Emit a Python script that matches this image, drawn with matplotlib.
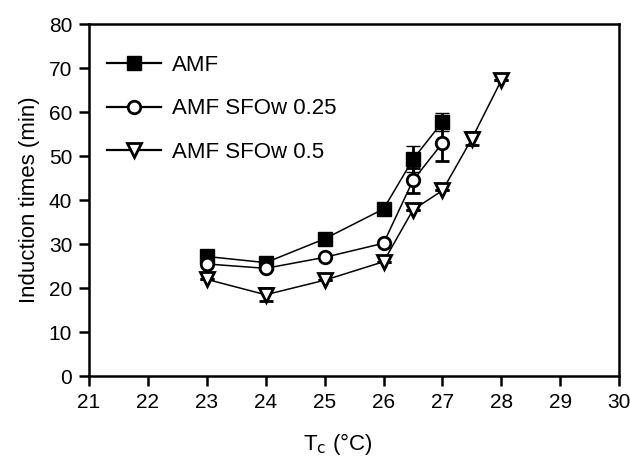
import matplotlib.pyplot as plt
from matplotlib.lines import Line2D

plt.rcParams['font.family'] = ['Liberation Sans', 'DejaVu Sans']

# Crystallization temperature (°C) and induction times (min)
tc_amf = [23, 24, 25, 26, 26.5, 27]
t_amf = [27.2, 25.8, 31.2, 38.0, 49.3, 57.8]
err_amf = [0, 0, 0, 0, 3.0, 2.0]

tc_025 = [23, 24, 25, 26, 26.5, 27]
t_025 = [25.5, 24.5, 27.0, 30.2, 44.5, 53.0]
err_025 = [0, 0, 0, 0, 2.8, 4.0]

tc_05 = [23, 24, 25, 26, 26.5, 27, 27.5, 28]
t_05 = [22.0, 18.5, 21.8, 26.0, 37.8, 42.2, 54.0, 67.3]
err_05 = [0, 1.5, 0, 0, 0, 0, 1.5, 0]

labels = ['AMF', 'AMF SFOw 0.25', 'AMF SFOw 0.5']

fig = plt.figure(figsize=(6.3, 4.57), dpi=100)
ax = fig.add_axes([0.141, 0.177, 0.842, 0.77])

common = dict(color='black', lw=1.1, elinewidth=2.0, capsize=5, capthick=2.0)
styles = [
    dict(marker='s', ms=9.5, mfc='black', mec='black', mew=1.0),
    dict(marker='o', ms=9, mfc='white', mec='black', mew=2.0),
    dict(marker='v', ms=10.5, mfc='white', mec='black', mew=2.0),
]
series = [(tc_amf, t_amf, err_amf), (tc_025, t_025, err_025), (tc_05, t_05, err_05)]

handles = []
for (x, y, e), st, lab in zip(series, styles, labels):
    ax.errorbar(x, y, yerr=e, **st, **common)
    handles.append(Line2D([], [], color='black', lw=1.6, **st, label=lab))

ax.set_xlim(21, 30)
ax.set_ylim(0, 80)
ax.set_xticks(range(21, 31))
ax.set_yticks(range(0, 81, 10))

for s in ax.spines.values():
    s.set_linewidth(1.8)
ax.tick_params(direction='out', length=7, width=1.8, labelsize=15, pad=5)

ax.set_xlabel(r'T$_\mathrm{c}$ (°C)', fontsize=16)
ax.xaxis.set_label_coords(0.47, -0.155)
ax.set_ylabel('Induction times (min)', fontsize=16, labelpad=6)

ax.legend(handles=handles, loc='upper left', bbox_to_anchor=(0.035, 0.912),
          frameon=False, fontsize=16, handlelength=2.4, handletextpad=0.5,
          labelspacing=1.0, borderpad=0, borderaxespad=0)

fig.savefig('out.png', dpi=100)
